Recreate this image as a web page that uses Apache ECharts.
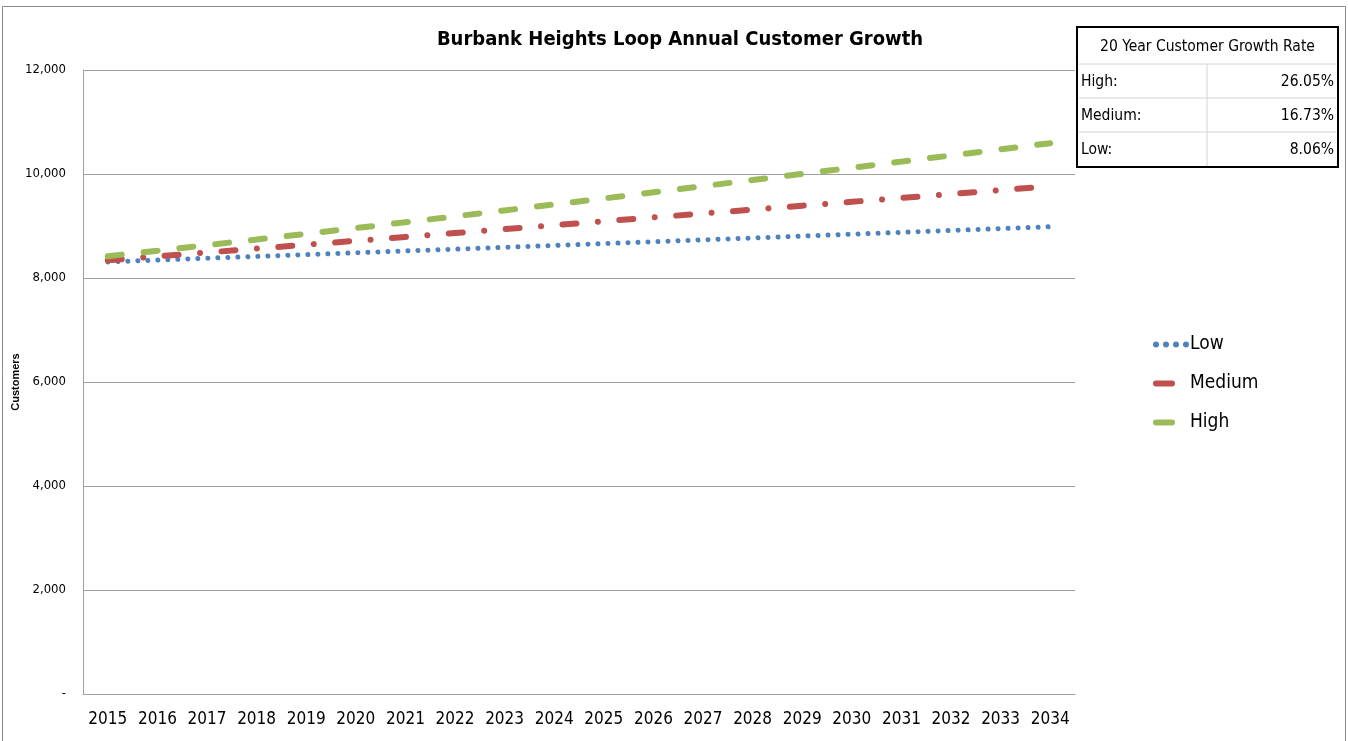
<!DOCTYPE html>
<html>
<head>
<meta charset="utf-8">
<script src="https://cdn.jsdelivr.net/npm/echarts@6/dist/echarts.min.js"></script>
<style>
  html, body { margin: 0; padding: 0; background: #fff; }
  #main { width: 1348px; height: 741px; }
</style>
</head>
<body>
<div id="main"></div>
<script>
var years = ['2015', '2016', '2017', '2018', '2019', '2020', '2021', '2022', '2023', '2024',
  '2025', '2026', '2027', '2028', '2029', '2030', '2031', '2032', '2033', '2034'];
var lowValues = [8310, 8345, 8380, 8415, 8450, 8485, 8520, 8555, 8590, 8626,
  8662, 8698, 8734, 8770, 8806, 8842, 8878, 8914, 8950, 8985];
var mediumValues = [8340, 8415, 8490, 8565, 8640, 8715, 8790, 8865, 8940, 9015,
  9090, 9165, 9240, 9315, 9390, 9465, 9540, 9615, 9690, 9765];
var highValues = [8420, 8525, 8632, 8740, 8850, 8960, 9072, 9185, 9300, 9415,
  9530, 9648, 9766, 9884, 10002, 10120, 10238, 10356, 10474, 10592];
var rateNames = ['High:', 'Medium:', 'Low:'];
var rateValues = ['26.05%', '16.73%', '8.06%'];

var narrow = '"DejaVu Sans Condensed", "Liberation Sans Narrow", sans-serif';
var chart = echarts.init(document.getElementById('main'));

// legend icons: dots for Low, a short bar for the others
var dotsIcon = 'path://M0,3a3,3 0 1,0 6,0a3,3 0 1,0 -6,0z M10,3a3,3 0 1,0 6,0a3,3 0 1,0 -6,0z ' +
  'M20,3a3,3 0 1,0 6,0a3,3 0 1,0 -6,0z M30,3a3,3 0 1,0 6,0a3,3 0 1,0 -6,0z';
var barIcon = 'path://M3,0h16a3,3 0 0 1 0,6h-16a3,3 0 0 1 0,-6z M36,3L36.01,3';

// table in the upper right corner
var tx = 1077, ty = 27, tw = 261, colX = 1207;
var rowTop = [64, 98, 132], rowH = 34;
var tableFont = '15.5px ' + narrow;
var table = [
  { type: 'rect', shape: { x: tx, y: ty, width: tw, height: 140 },
    style: { fill: '#fff', stroke: '#000', lineWidth: 2 }, z: 10 },
  { type: 'text', x: tx + tw / 2, y: 47, z: 11,
    style: { text: '20 Year Customer Growth Rate', font: tableFont, fill: '#000',
      align: 'center', verticalAlign: 'middle' } },
  { type: 'line', shape: { x1: colX, y1: 64, x2: colX, y2: 166 },
    style: { stroke: '#d4d4d4', lineWidth: 1 }, z: 11 }
];
rowTop.forEach(function (t, i) {
  table.push({ type: 'line', shape: { x1: tx + 2, y1: t, x2: tx + tw - 2, y2: t },
    style: { stroke: '#d4d4d4', lineWidth: 1 }, z: 11 });
  table.push({ type: 'text', x: tx + 4, y: t + rowH / 2 + 1, z: 11,
    style: { text: rateNames[i], font: tableFont, fill: '#000', verticalAlign: 'middle' } });
  table.push({ type: 'text', x: tx + tw - 4, y: t + rowH / 2 + 1, z: 11,
    style: { text: rateValues[i], font: tableFont, fill: '#000', align: 'right', verticalAlign: 'middle' } });
});

var option = {
  backgroundColor: '#ffffff',
  animation: false,
  title: {
    text: 'Burbank Heights Loop Annual Customer Growth',
    left: 675, top: 25, textAlign: 'center',
    textStyle: { fontFamily: narrow, fontWeight: 'bold', fontSize: 20, color: '#000' }
  },
  legend: {
    orient: 'vertical',
    left: 1148, top: 330,
    itemWidth: 36, itemHeight: 6, itemGap: 20,
    textStyle: { fontFamily: narrow, fontSize: 19, color: '#000', padding: [0, 0, 0, -4] },
    data: [
      { name: 'Low', icon: dotsIcon },
      { name: 'Medium', icon: barIcon },
      { name: 'High', icon: barIcon }
    ]
  },
  grid: { left: 83, top: 70, right: 273, bottom: 47, outerBoundsMode: 'none' },
  xAxis: {
    type: 'category',
    data: years,
    boundaryGap: true,
    axisLine: { lineStyle: { color: '#a0a0a0' } },
    axisTick: { show: false },
    axisLabel: { interval: 0, fontFamily: narrow, fontSize: 17, color: '#000', margin: 17 }
  },
  yAxis: {
    type: 'value',
    min: 0, max: 12000, interval: 2000,
    name: 'Customers',
    nameLocation: 'middle',
    nameGap: 62,
    nameMoveOverlap: false,
    nameTextStyle: { fontFamily: 'Arial, sans-serif', fontWeight: 'bold', fontSize: 11, color: '#000' },
    axisLine: { show: true, lineStyle: { color: '#a0a0a0' } },
    axisTick: { show: false },
    splitLine: { lineStyle: { color: '#a0a0a0' } },
    axisLabel: {
      fontFamily: narrow, fontSize: 13, color: '#000', margin: 17,
      formatter: function (v) { return v === 0 ? '-' : v.toLocaleString('en-US'); }
    }
  },
  series: [
    { name: 'Low', type: 'line', data: lowValues, symbol: 'none', color: '#4f81bd',
      lineStyle: { width: 5, type: [0.01, 10], cap: 'round', color: '#4f81bd' }, z: 3 },
    { name: 'Medium', type: 'line', data: mediumValues, symbol: 'none', color: '#c0504d',
      lineStyle: { width: 6, type: [14, 21.5, 0.01, 21.5], cap: 'round', color: '#c0504d' }, z: 4 },
    { name: 'High', type: 'line', data: highValues, symbol: 'none', color: '#9bbb59',
      lineStyle: { width: 6, type: [14, 22], cap: 'round', color: '#9bbb59' }, z: 5 }
  ],
  graphic: [
    { type: 'rect', shape: { x: 2.5, y: 6.5, width: 1343, height: 760 },
      style: { fill: null, stroke: '#8a8a8a', lineWidth: 1 }, z: 0, silent: true }
  ].concat(table)
};
chart.setOption(option);
</script>
</body>
</html>
